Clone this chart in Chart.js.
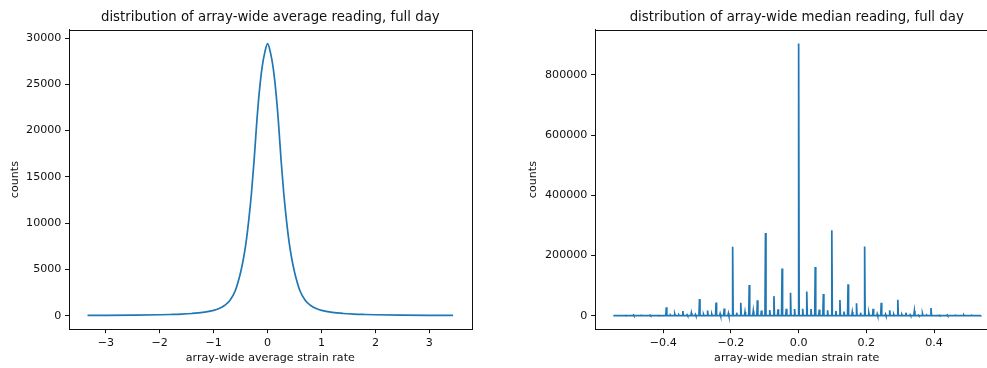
<!DOCTYPE html>
<html>
<head>
<meta charset="utf-8">
<script src="https://cdn.jsdelivr.net/npm/chart.js@4.4.1/dist/chart.umd.min.js"></script>
<style>
  html, body { margin: 0; padding: 0; background: #fff; }
  #wrap { position: relative; width: 987px; height: 368px; overflow: hidden; }
  #avgChart { position: absolute; left: 0; top: 0; }
  #medChart { position: absolute; left: 500px; top: 0; }
</style>
</head>
<body>
<div id="wrap">
  <canvas id="avgChart" width="480" height="368"></canvas>
  <canvas id="medChart" width="510" height="368"></canvas>
</div>
<script>
// left panel: array-wide average strain rate histogram
var avgRate = [-3.34, -3.0, -2.5, -2.0, -1.8, -1.6, -1.4, -1.2, -1.0, -0.9,
    -0.8, -0.7, -0.6, -0.5, -0.45, -0.4, -0.35, -0.3, -0.25, -0.2,
    -0.15, -0.1, -0.05, 0, 0.05, 0.1, 0.15, 0.2, 0.25, 0.3,
    0.35, 0.4, 0.45, 0.5, 0.6, 0.7, 0.8, 0.9, 1.0, 1.2,
    1.4, 1.6, 1.8, 2.0, 2.5, 3.0, 3.44];
var avgCounts = [25, 35, 60, 100, 130, 170, 240, 360, 580, 780,
    1100, 1650, 2700, 4700, 6100, 7900, 10300, 13200, 16800, 21000,
    24400, 26900, 28500, 29400, 28500, 26900, 24400, 21000, 16800, 13200,
    10300, 7900, 6100, 4700, 2700, 1650, 1100, 780, 580, 360,
    240, 170, 130, 100, 60, 35, 25];

// right panel: array-wide median strain rate histogram (spiky)
var medStart = -0.5475;
var spikeRate = [-0.537, -0.512, -0.488, -0.464, -0.439, -0.415, -0.391, -0.366, -0.342, -0.317,
    -0.293, -0.269, -0.244, -0.220, -0.195, -0.171, -0.146, -0.122, -0.098, -0.073,
    -0.049, -0.024, 0, 0.024, 0.049, 0.073, 0.098, 0.122, 0.146, 0.171,
    0.195, 0.220, 0.244, 0.269, 0.293, 0.317, 0.342, 0.366, 0.391, 0.415,
    0.439, 0.464, 0.488, 0.512, 0.537];
var spikeCounts = [500, 800, 2500, 800, 2000, 1000, 28000, 5500, 15500, 9000,
    55000, 17000, 44000, 24000, 229000, 43000, 102000, 51000, 275000, 65000,
    157000, 76000, 904000, 80000, 162000, 72000, 284000, 52000, 104000, 41000,
    230000, 23000, 43000, 17700, 53000, 10000, 15500, 6600, 25400, 1500,
    2500, 1000, 2500, 800, 500];
// small bumps of the floor between neighbouring spikes
var gapCounts = [0, 0, 0, 0, 0, 500, 2000, 2500, 3000, 4000,
    4500, 5000, 6500, 8000, 10000, 12000, 15000, 17000, 19000, 21000,
    23000, 22000, 23000, 22000, 20000, 18000, 16000, 14000, 12000, 10000,
    8000, 6000, 5000, 4000, 3500, 3000, 2000, 1500, 500, 0,
    0, 0, 0, 0];

var avgXTicks = [-3, -2, -1, 0, 1, 2, 3];
var avgXLabels = ["\u22123", "\u22122", "\u22121", "0", "1", "2", "3"];
var avgYTicks = [0, 5000, 10000, 15000, 20000, 25000, 30000];
var medXTicks = [-0.4, -0.2, 0, 0.2, 0.4];
var medXLabels = ["\u22120.4", "\u22120.2", "0.0", "0.2", "0.4"];
var medYTicks = [0, 200000, 400000, 600000, 800000];

var FONT = "'DejaVu Sans', sans-serif";
var BLUE = "#1f77b4";
var INK = "#111";
var SMALL = 11.1;
var BIG = 13.3;

var framePlugin = {
    id: "frame",
    afterDatasetsDraw: function (chart) {
        var a = chart.chartArea;
        var ctx = chart.ctx;
        ctx.save();
        ctx.strokeStyle = INK;
        ctx.lineWidth = 1;
        ctx.strokeRect(Math.round(a.left) + 0.5, Math.round(a.top) + 0.5,
            Math.round(a.right - a.left), Math.round(a.bottom - a.top));
        ctx.restore();
    }
};

function axisX(min, max, ticks, labels, title) {
    return {
        type: "linear",
        min: min,
        max: max,
        afterBuildTicks: function (s) { s.ticks = ticks.map(function (v) { return { value: v }; }); },
        afterFit: function (s) { s.height = 38.7; },
        ticks: {
            color: INK, padding: 3, maxRotation: 0, autoSkip: false,
            font: { family: FONT, size: SMALL },
            callback: function (v, i) { return labels[i]; }
        },
        grid: { drawOnChartArea: false, drawTicks: true, tickLength: 3.9, tickColor: INK, tickWidth: 1 },
        border: { display: true, color: INK, width: 1 },
        title: { display: true, text: title, color: INK, font: { family: FONT, size: SMALL, lineHeight: 1.2 }, padding: { top: 0, bottom: 3.3 } }
    };
}

function axisY(min, max, ticks, width, titlePad) {
    return {
        type: "linear",
        min: min,
        max: max,
        afterBuildTicks: function (s) { s.ticks = ticks.map(function (v) { return { value: v }; }); },
        afterFit: function (s) { s.width = width; },
        ticks: {
            color: INK, padding: 3.7, autoSkip: false,
            font: { family: FONT, size: SMALL },
            callback: function (v) { return String(v); }
        },
        grid: { drawOnChartArea: false, drawTicks: true, tickLength: 3.9, tickColor: INK, tickWidth: 1 },
        border: { display: true, color: INK, width: 1 },
        title: { display: true, text: "counts", color: INK, font: { family: FONT, size: SMALL, lineHeight: 1.2 }, padding: { top: titlePad, bottom: 0 } }
    };
}

function titleOpts(text) {
    return {
        display: true,
        text: text,
        color: INK,
        fullSize: false,
        font: { family: FONT, size: BIG, weight: "normal", lineHeight: 1.2 },
        padding: { top: 9.2, bottom: 4.8 }
    };
}

var avgPoints = avgRate.map(function (x, i) { return { x: x, y: avgCounts[i] }; });

var w = 0.0015;
var medPoints = [{ x: medStart, y: 0 }];
spikeRate.forEach(function (x, i) {
    medPoints.push({ x: x - w, y: 0 });
    medPoints.push({ x: x, y: spikeCounts[i] });
    medPoints.push({ x: x + w, y: 0 });
    if (i < gapCounts.length) {
        var mid = (x + spikeRate[i + 1]) / 2;
        medPoints.push({ x: mid - w, y: 0 });
        medPoints.push({ x: mid, y: gapCounts[i] });
        medPoints.push({ x: mid + w, y: 0 });
    }
});

new Chart(document.getElementById("avgChart"), {
    type: "line",
    data: {
        datasets: [{
            data: avgPoints,
            borderColor: BLUE,
            borderWidth: 1.7,
            pointRadius: 0,
            cubicInterpolationMode: "monotone",
            fill: false
        }]
    },
    options: {
        responsive: false,
        animation: false,
        layout: { padding: { left: 0, right: 8.4, top: 0, bottom: 0 } },
        scales: {
            x: axisX(-3.683, 3.783, avgXTicks, avgXLabels, "array-wide average strain rate"),
            y: axisY(-1470, 30870, avgYTicks, 69, 8.3)
        },
        plugins: {
            legend: { display: false },
            tooltip: { enabled: false },
            title: titleOpts("distribution of array-wide average reading, full day")
        }
    },
    plugins: [framePlugin]
});

new Chart(document.getElementById("medChart"), {
    type: "line",
    data: {
        datasets: [{
            data: medPoints,
            borderColor: BLUE,
            borderWidth: 1.7,
            pointRadius: 0,
            tension: 0,
            fill: false
        }]
    },
    options: {
        responsive: false,
        animation: false,
        layout: { padding: { left: 0, right: 11.6, top: 0, bottom: 0 } },
        scales: {
            x: axisX(-0.6017, 0.5902, medXTicks, medXLabels, "array-wide median strain rate"),
            y: axisY(-45200, 949200, medYTicks, 95, 26.3)
        },
        plugins: {
            legend: { display: false },
            tooltip: { enabled: false },
            title: titleOpts("distribution of array-wide median reading, full day")
        }
    },
    plugins: [framePlugin]
});
</script>
</body>
</html>
